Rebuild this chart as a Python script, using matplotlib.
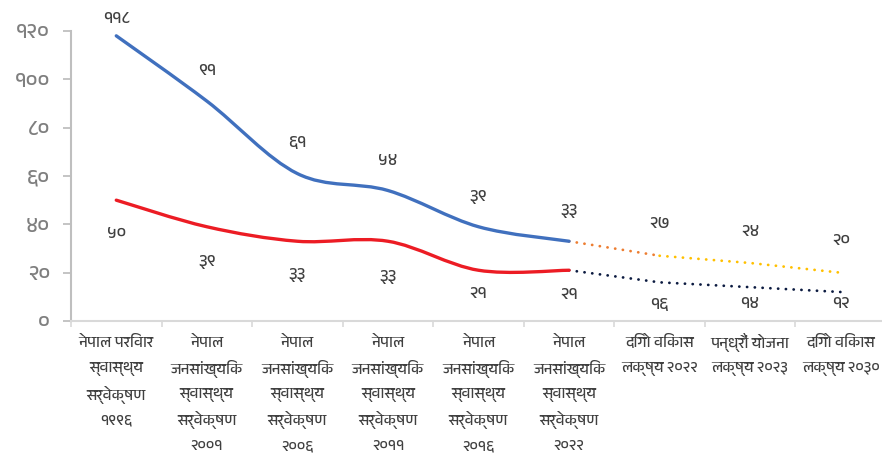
import numpy as np
import matplotlib
matplotlib.use("Agg")
import matplotlib.pyplot as plt
import matplotlib.transforms as mtransforms
from matplotlib import font_manager
from matplotlib.ft2font import FT2Font
from matplotlib.path import Path
from matplotlib.patches import PathPatch

# survey rounds and targets on the x axis
categories = [
    "नेपाल परिवार\nस्वास्थ्य\nसर्वेक्षण\n१९९६",
    "नेपाल\nजनसांख्यिक\nस्वास्थ्य\nसर्वेक्षण\n२००१",
    "नेपाल\nजनसांख्यिक\nस्वास्थ्य\nसर्वेक्षण\n२००६",
    "नेपाल\nजनसांख्यिक\nस्वास्थ्य\nसर्वेक्षण\n२०११",
    "नेपाल\nजनसांख्यिक\nस्वास्थ्य\nसर्वेक्षण\n२०१६",
    "नेपाल\nजनसांख्यिक\nस्वास्थ्य\nसर्वेक्षण\n२०२२",
    "दिगो विकास\nलक्ष्य २०२२",
    "पन्ध्रौं योजना\nलक्ष्य २०२३",
    "दिगो विकास\nलक्ष्य २०३०",
]

# measured values (survey rounds) and targets
blue_survey = [118, 91, 61, 54, 39, 33]
blue_target = [27, 24, 20]
red_survey = [50, 39, 33, 33, 21, 21]
red_target = [16, 14, 12]

yticks = [0, 20, 40, 60, 80, 100, 120]

# label offsets in pixels (above the blue line, below the red line)
blue_lab_dy = [17, 31, 31, 30, 30, 31, 32, 32, 32]
red_lab_dy = [-33, -35, -33, -35, -23, -24, -22, -16, -11]


def find_deva_fonts():
    found = []
    for f in font_manager.fontManager.ttflist:
        try:
            cm = FT2Font(f.fname).get_charmap()
        except Exception:
            continue
        if 0x0928 in cm and 0x0966 in cm:
            found.append(f.name)
    return sorted(set(found), key=lambda n: ("Devanagari" not in n, n))


plt.rcParams["font.family"] = find_deva_fonts() + ["DejaVu Sans"]

DIGITS = str.maketrans("0123456789", "०१२३४५६७८९")


def deva_num(v):
    return str(v).translate(DIGITS)


def smooth_path(xs, ys):
    # Bezier smoothing through every point (spreadsheet-style smooth line)
    pts = np.column_stack([xs, ys]).astype(float)
    n = len(pts)
    verts = [pts[0]]
    codes = [Path.MOVETO]
    for i in range(n - 1):
        p0 = pts[i - 1] if i > 0 else pts[i]
        p1 = pts[i]
        p2 = pts[i + 1]
        p3 = pts[i + 2] if i + 2 < n else pts[i + 1]
        c1 = p1 + (p2 - p0) / 6.0
        c2 = p2 - (p3 - p1) / 6.0
        verts += [c1, c2, p2]
        codes += [Path.CURVE4] * 3
    return Path(verts, codes)


fig = plt.figure(figsize=(8.82, 4.54), dpi=100)
ax = fig.add_axes([71 / 882, 133 / 454, 815 / 882, 290 / 454])

n = len(categories)
x_all = np.arange(n)
x_s = x_all[:len(blue_survey)]

blue = "#4070BE"
red = "#EC1C24"
orange = "#ED7D31"
yellow = "#FFC000"
navy = "#0B1A40"

ax.add_patch(PathPatch(smooth_path(x_s, blue_survey), fc="none", ec=blue,
                       lw=2.4, capstyle="round", zorder=3))
ax.add_patch(PathPatch(smooth_path(x_s, red_survey), fc="none", ec=red,
                       lw=2.4, capstyle="round", zorder=3))

dots = (0, (0.05, 2.75))
ax.plot([x_s[-1], x_all[len(x_s)]], [blue_survey[-1], blue_target[0]],
        color=orange, lw=2.0, ls=dots, dash_capstyle="round", zorder=2)
ax.plot(x_all[len(x_s):], blue_target,
        color=yellow, lw=2.0, ls=dots, dash_capstyle="round", zorder=2)
ax.plot(x_all[len(x_s) - 1:], [red_survey[-1]] + red_target,
        color=navy, lw=2.0, ls=dots, dash_capstyle="round", zorder=2)

label_color = "#404040"
for xi, v, dy in zip(x_all, blue_survey + blue_target, blue_lab_dy):
    ax.annotate(deva_num(v), (xi, v), xytext=(0, dy), textcoords="offset pixels",
                ha="center", va="center", fontsize=12.5, color=label_color,
                annotation_clip=False)
for xi, v, dy in zip(x_all, red_survey + red_target, red_lab_dy):
    ax.annotate(deva_num(v), (xi, v), xytext=(0, dy), textcoords="offset pixels",
                ha="center", va="center", fontsize=12.5, color=label_color,
                annotation_clip=False)

ax.set_xlim(-0.5, n - 0.5)
ax.set_ylim(0, 120)
ax.set_yticks(yticks)
ax.set_yticklabels([deva_num(t) for t in yticks], fontsize=15.5, color="#7F7F7F")
ax.tick_params(axis="y", direction="out", length=6, width=1.3, color="#BFBFBF", pad=9)

# category names: one text per line so the rows sit on an even grid
ax.set_xticks(np.arange(n + 1) - 0.5)
ax.set_xticklabels([])
ax.tick_params(axis="x", direction="out", length=4, width=1.2, color="#D9D9D9")
xform = mtransforms.blended_transform_factory(ax.transData, ax.transAxes)
for xi, cat in zip(x_all, categories):
    for k, line in enumerate(cat.split("\n")):
        ax.annotate(line, (xi, 0), xycoords=xform,
                    xytext=(0, -22 - 25.75 * k), textcoords="offset pixels",
                    ha="center", va="center", fontsize=11, color=label_color,
                    annotation_clip=False)

for s in ["top", "right"]:
    ax.spines[s].set_visible(False)
ax.spines["left"].set_color("#BFBFBF")
ax.spines["left"].set_linewidth(1.5)
ax.spines["bottom"].set_color("#D9D9D9")
ax.spines["bottom"].set_linewidth(1.5)

fig.savefig("out.png", dpi=100)
